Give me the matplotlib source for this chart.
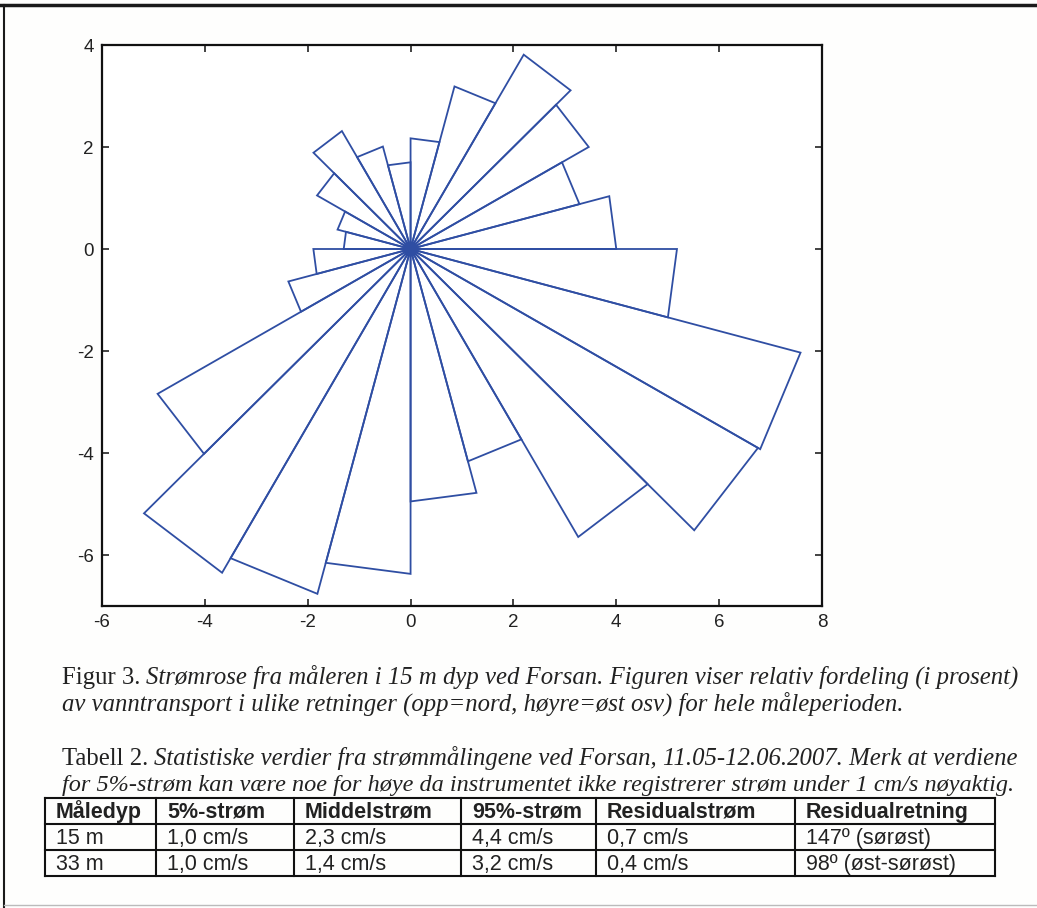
import numpy as np
import matplotlib
matplotlib.use("Agg")
import matplotlib.pyplot as plt
from matplotlib.lines import Line2D

plt.rcParams["axes.unicode_minus"] = False

# ---------------- data ----------------
# current rose: relative distribution (%) of water transport per 15-degree sector
# sectors given by their start angle (math convention: 0 = east, counter-clockwise)
sector_start_deg = [0, 15, 30, 45, 60, 75, 90, 105, 120, 135, 150, 165,
                    180, 195, 210, 225, 240, 255, 270, 285, 300, 315, 330, 345]
sector_percent = [4.0, 3.4, 4.0, 4.4, 3.3, 2.17, 1.7, 2.08, 2.67, 2.1, 1.47, 1.3,
                  1.89, 2.46, 5.68, 7.33, 7.0, 6.37, 4.95, 4.31, 6.52, 7.8, 7.85, 5.18]
sector_width_deg = 15

x_ticks = [-6, -4, -2, 0, 2, 4, 6, 8]
y_ticks = [-6, -4, -2, 0, 2, 4]

table_headers = ["Måledyp", "5%-strøm", "Middelstrøm", "95%-strøm",
                 "Residualstrøm", "Residualretning"]
table_row_15m = ["15 m", "1,0 cm/s", "2,3 cm/s", "4,4 cm/s", "0,7 cm/s", "147º (sørøst)"]
table_row_33m = ["33 m", "1,0 cm/s", "1,4 cm/s", "3,2 cm/s", "0,4 cm/s", "98º (øst-sørøst)"]

fig_caption_label = "Figur 3."
fig_caption_line1 = "Strømrose fra måleren i 15 m dyp ved Forsan. Figuren viser relativ fordeling (i prosent)"
fig_caption_line2 = "av vanntransport i ulike retninger (opp=nord, høyre=øst osv) for hele måleperioden."
tab_caption_label = "Tabell 2."
tab_caption_line1 = "Statistiske verdier fra strømmålingene ved Forsan, 11.05-12.06.2007. Merk at verdiene"
tab_caption_line2 = "for 5%-strøm kan være noe for høye da instrumentet ikke registrerer strøm under 1 cm/s nøyaktig."

# ---------------- figure ----------------
W, H = 1037, 908
fig = plt.figure(figsize=(W / 100, H / 100), dpi=100)
fig.patch.set_facecolor("#fefefd")

def fx(px):
    return px / W

def fy(py):
    return 1 - py / H

ax = fig.add_axes([fx(102), fy(606), fx(822) - fx(102), fy(45) - fy(606)])
ax.set_facecolor("white")

blue = "#2f4ea3"
for start, r in zip(sector_start_deg, sector_percent):
    t1 = np.deg2rad(start)
    t2 = np.deg2rad(start + sector_width_deg)
    xs = [0, r * np.cos(t1), r * np.cos(t2), 0]
    ys = [0, r * np.sin(t1), r * np.sin(t2), 0]
    ax.plot(xs, ys, color=blue, lw=1.3, solid_joinstyle="miter")

ax.set_xlim(-6, 8)
ax.set_ylim(-7, 4)
ax.set_xticks(x_ticks)
ax.set_yticks(y_ticks)
ax.tick_params(direction="in", length=5, width=1.2, top=True, right=True,
               labelsize=13.5, pad=6, colors="#222222")
for s in ax.spines.values():
    s.set_linewidth(1.6)
    s.set_color("#111111")
for lab in ax.get_xticklabels() + ax.get_yticklabels():
    lab.set_family("Liberation Sans")

# ---------------- page frame ----------------
fig.add_artist(Line2D([0, 1], [fy(5), fy(5)], color="#1a1a1a", lw=2.5, transform=fig.transFigure))
fig.add_artist(Line2D([fx(4), fx(4)], [fy(5), fy(908)], color="#1a1a1a", lw=1.5, transform=fig.transFigure))
fig.add_artist(Line2D([fx(4), 1], [fy(905), fy(905)], color="#bbbbbb", lw=1.0, transform=fig.transFigure))

# ---------------- captions ----------------
serif = "Liberation Serif"
cap_size = 17.85
renderer = fig.canvas.get_renderer()

def mixed_line(x_px, base_px, label, text, size):
    if label:
        t = fig.text(fx(x_px), fy(base_px), label, family=serif, size=size,
                     va="baseline", ha="left", color="#222222")
        bb = t.get_window_extent(renderer)
        x_next = bb.x1 / W + fx(6)
    else:
        x_next = fx(x_px)
    fig.text(x_next, fy(base_px), text, family=serif, style="italic", size=size,
             va="baseline", ha="left", color="#222222")

mixed_line(62, 684, fig_caption_label, fig_caption_line1, cap_size)
mixed_line(62, 711, None, fig_caption_line2, cap_size)
mixed_line(62, 765, tab_caption_label, tab_caption_line1, cap_size)
mixed_line(62, 791, None, tab_caption_line2, 17.45)

# ---------------- table ----------------
col_edges = [45, 156, 294, 461, 596, 795, 995]
row_edges = [798, 824, 850, 876]
for yy in row_edges:
    fig.add_artist(Line2D([fx(col_edges[0]), fx(col_edges[-1])], [fy(yy), fy(yy)],
                          color="#111111", lw=1.5, transform=fig.transFigure))
for xx in col_edges:
    fig.add_artist(Line2D([fx(xx), fx(xx)], [fy(row_edges[0]), fy(row_edges[-1])],
                          color="#111111", lw=1.5, transform=fig.transFigure))

rows = [table_headers, table_row_15m, table_row_33m]
for ri, row in enumerate(rows):
    baseline = row_edges[ri] + 20
    for ci, cell in enumerate(row):
        fig.text(fx(col_edges[ci] + 11), fy(baseline), cell, family="Liberation Sans",
                 size=15.5, weight="bold" if ri == 0 else "normal",
                 va="baseline", ha="left", color="#222222")

fig.savefig("out.png", dpi=100, facecolor=fig.get_facecolor())
